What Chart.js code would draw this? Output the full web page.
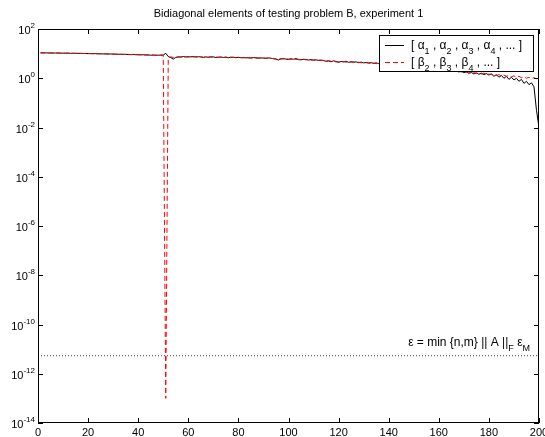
<!DOCTYPE html>
<html>
<head>
<meta charset="utf-8">
<script src="https://cdn.jsdelivr.net/npm/chart.js@4"></script>
<style>
  body { margin: 0; background: #fff; }
  canvas { display: block; }
</style>
</head>
<body>
<canvas id="myChart" width="545" height="437"></canvas>
<script>
// alpha_1 .. alpha_200 (plotted at x = 1..200)
const alphaValues = [
  10.8, 10.7, 10.8, 10.6, 10.7, 10.5, 10.6, 10.6, 10.4, 10.5,
  10.4, 10.5, 10.3, 10.4, 10.2, 10.3, 10.2, 10.1, 10.2, 10.0,
  10.1, 9.9, 10.0, 9.8, 9.9, 9.7, 9.8, 9.6, 9.7, 9.5,
  9.6, 9.4, 9.5, 9.3, 9.4, 9.2, 9.1, 9.3, 9.0, 9.1,
  8.9, 9.0, 8.8, 8.9, 8.6, 8.8, 8.5, 8.7, 8.6, 8.7,
  10.3, 7.6, 6.9, 6.0, 7.0, 7.4, 7.2, 7.6, 7.3, 7.5,
  7.4, 7.6, 7.2, 7.5, 7.3, 7.0, 7.4, 7.1, 7.3, 7.4,
  6.9, 7.2, 7.3, 7.0, 7.1, 6.8, 7.2, 7.0, 6.9, 7.1,
  6.8, 7.0, 6.7, 6.9, 6.6, 6.9, 6.8, 6.5, 6.7, 6.6,
  6.4, 6.7, 6.5, 6.2, 6.0, 5.5, 6.1, 6.3, 6.0, 5.8,
  6.2, 5.9, 6.3, 5.7, 5.6, 5.9, 5.8, 5.5, 5.7, 5.4,
  5.6, 5.3, 5.5, 5.2, 4.9, 5.0, 4.7, 5.1, 4.8, 4.4,
  4.8, 4.6, 4.9, 4.4, 4.7, 4.5, 4.6, 4.3, 4.5, 4.2,
  4.4, 4.1, 4.3, 4.0, 4.2, 3.9, 3.1, 4.0, 3.8, 3.6,
  3.7, 3.5, 3.6, 3.3, 3.5, 3.2, 3.3, 3.0, 3.2, 2.9,
  3.0, 2.8, 2.9, 2.6, 2.7, 2.5, 2.6, 2.4, 2.5, 2.3,
  2.4, 2.2, 2.3, 2.0, 2.1, 1.9, 2.0, 1.8, 1.9, 1.7,
  1.8, 1.6, 1.7, 1.5, 1.65, 1.45, 1.6, 1.4, 1.55, 1.35,
  1.5, 1.2, 1.4, 1.1, 1.3, 1.0, 1.2, 0.9, 1.1, 0.85,
  1.0, 0.75, 0.9, 0.62, 0.75, 0.55, 0.65, 0.45, 0.05, 0.01
];

// beta_2 .. beta_200 (plotted at x = 1..199)
const betaValues = [
  10.6, 10.8, 10.5, 10.7, 10.5, 10.7, 10.4, 10.6, 10.5, 10.3,
  10.5, 10.3, 10.4, 10.2, 10.4, 10.1, 10.3, 10.2, 10.0, 10.1,
  9.9, 10.0, 9.8, 10.0, 9.7, 9.8, 9.6, 9.8, 9.5, 9.7,
  9.4, 9.6, 9.3, 9.4, 9.2, 9.4, 9.2, 9.0, 9.2, 8.9,
  9.0, 8.8, 8.9, 8.7, 8.9, 8.6, 8.7, 8.5, 8.8, 8.6,
  1e-13, 6.8, 7.4, 7.0, 7.5, 7.2, 7.6, 7.1, 7.5, 7.3,
  7.6, 7.3, 7.7, 7.2, 7.5, 7.1, 7.4, 7.2, 7.5, 7.1,
  7.3, 7.0, 7.2, 6.9, 7.3, 6.9, 7.0, 7.2, 6.8, 7.0,
  6.9, 6.7, 7.0, 6.6, 6.8, 6.7, 6.5, 6.8, 6.5, 6.7,
  6.5, 6.6, 6.3, 6.4, 6.1, 5.9, 6.3, 6.0, 6.2, 6.0,
  5.9, 6.2, 5.8, 5.9, 5.7, 5.8, 5.6, 5.7, 5.4, 5.6,
  5.4, 5.5, 5.2, 5.4, 5.0, 5.2, 4.9, 4.9, 4.6, 4.8,
  4.6, 4.8, 4.5, 4.7, 4.5, 4.6, 4.3, 4.5, 4.2, 4.4,
  4.2, 4.3, 4.0, 4.2, 3.9, 4.1, 3.7, 3.9, 3.7, 3.8,
  3.6, 3.7, 3.4, 3.5, 3.3, 3.4, 3.1, 3.2, 3.0, 3.1,
  2.9, 3.0, 2.7, 2.8, 2.6, 2.7, 2.5, 2.6, 2.3, 2.4,
  2.3, 2.4, 2.1, 2.2, 2.0, 2.1, 1.9, 2.0, 1.8, 1.9,
  1.75, 1.8, 1.6, 1.7, 1.55, 1.65, 1.5, 1.6, 1.45, 1.5,
  1.4, 1.45, 1.3, 1.4, 1.25, 1.35, 1.2, 1.3, 1.15, 1.25,
  1.1, 1.2, 1.05, 1.15, 1.0, 1.1, 1.0, 1.05, 0.95
];

const epsilonLevel = 5.4e-12;
const xTicks = [0, 20, 40, 60, 80, 100, 120, 140, 160, 180, 200];
const yTicks = [1e2, 1e0, 1e-2, 1e-4, 1e-6, 1e-8, 1e-10, 1e-12, 1e-14];
const titleText = 'Bidiagonal elements of testing problem B, experiment 1';

const FONT = '"Liberation Sans", Arial, Helvetica, sans-serif';

// draw text pieces: kind 0 normal, 1 subscript, -1 superscript
const richWidth = (ctx, parts, size) => {
  let w = 0;
  parts.forEach(([txt, kind]) => {
    ctx.font = (kind === 0 ? size : Math.round(size * 0.75)) + 'px ' + FONT;
    w += ctx.measureText(txt).width;
  });
  return w;
};

const drawRich = (ctx, parts, x, y, size) => {
  let cx = x;
  ctx.textAlign = 'left';
  ctx.textBaseline = 'alphabetic';
  parts.forEach(([txt, kind]) => {
    ctx.font = (kind === 0 ? size : Math.round(size * 0.75)) + 'px ' + FONT;
    const dy = kind === 1 ? size * 0.38 : kind === -1 ? -size * 0.45 : 0;
    ctx.fillText(txt, cx, y + dy);
    cx += ctx.measureText(txt).width;
  });
};

const decorations = {
  id: 'decorations',
  afterDraw(chart) {
    const ctx = chart.ctx;
    const a = chart.chartArea;
    const xs = chart.scales.x;
    const ys = chart.scales.y;
    ctx.save();

    // frame
    ctx.strokeStyle = '#000';
    ctx.lineWidth = 1;
    ctx.strokeRect(Math.round(a.left) + 0.5, Math.round(a.top) + 0.5,
      Math.round(a.right - a.left) - 1, Math.round(a.bottom - a.top) - 1);

    // inward ticks
    ctx.beginPath();
    xTicks.forEach(v => {
      const px = Math.round(xs.getPixelForValue(v)) + 0.5;
      ctx.moveTo(px, a.bottom); ctx.lineTo(px, a.bottom - 5);
      ctx.moveTo(px, a.top); ctx.lineTo(px, a.top + 5);
    });
    yTicks.forEach(v => {
      const py = Math.round(ys.getPixelForValue(v)) + 0.5;
      ctx.moveTo(a.left, py); ctx.lineTo(a.left + 5, py);
      ctx.moveTo(a.right, py); ctx.lineTo(a.right - 5, py);
    });
    ctx.stroke();

    // y tick labels 10^n
    ctx.fillStyle = '#000';
    yTicks.forEach(v => {
      const py = ys.getPixelForValue(v);
      const e = String(Math.round(Math.log10(v)));
      ctx.font = '8px ' + FONT;
      const ew = ctx.measureText(e).width;
      ctx.font = '11px ' + FONT;
      const bw = ctx.measureText('10').width;
      const x0 = a.left - 3 - ew - bw;
      ctx.textAlign = 'left';
      ctx.textBaseline = 'alphabetic';
      ctx.fillText('10', x0, py + 5);
      ctx.font = '8px ' + FONT;
      ctx.fillText(e, x0 + bw, py - 1);
    });

    // title
    ctx.font = '11px ' + FONT;
    ctx.textAlign = 'center';
    ctx.textBaseline = 'middle';
    ctx.fillText(titleText, (a.left + a.right) / 2, 14);

    // epsilon label
    const epsParts = [['\u03b5 = min {n,m} || A ||', 0], ['F', 1], [' \u03b5', 0], ['M', 1]];
    const ew = richWidth(ctx, epsParts, 12);
    drawRich(ctx, epsParts, 530 - ew, 346, 12);

    // legend box
    const lx = 379.5, ly = 35.5, lw = 154, lh = 36;
    ctx.fillStyle = '#fff';
    ctx.fillRect(lx, ly, lw, lh);
    ctx.strokeStyle = '#000';
    ctx.strokeRect(lx, ly, lw, lh);

    ctx.beginPath();
    ctx.moveTo(385, 45.5); ctx.lineTo(404, 45.5);
    ctx.stroke();
    ctx.strokeStyle = '#ff0000';
    ctx.setLineDash([5, 3]);
    ctx.beginPath();
    ctx.moveTo(385, 62.5); ctx.lineTo(404, 62.5);
    ctx.stroke();
    ctx.setLineDash([]);

    ctx.fillStyle = '#000';
    drawRich(ctx, [['[ \u03b1', 0], ['1', 1], [' , \u03b1', 0], ['2', 1], [' , \u03b1', 0], ['3', 1],
      [' , \u03b1', 0], ['4', 1], [' , ... ]', 0]], 411, 49, 12);
    drawRich(ctx, [['[ \u03b2', 0], ['2', 1], [' , \u03b2', 0], ['3', 1], [' , \u03b2', 0], ['4', 1],
      [' , ... ]', 0]], 411, 66, 12);

    ctx.restore();
  }
};

const ctx = document.getElementById('myChart');

new Chart(ctx, {
  type: 'line',
  data: {
    datasets: [
      {
        label: 'beta',
        data: betaValues.map((v, i) => ({ x: i + 1, y: v })),
        borderColor: '#ff0000',
        borderWidth: 1,
        borderDash: [5, 3],
        pointRadius: 0,
        order: 0,
      },
      {
        label: 'alpha',
        data: alphaValues.map((v, i) => ({ x: i + 1, y: v })),
        borderColor: '#000000',
        borderWidth: 1,
        pointRadius: 0,
        order: 1,
      },
      {
        label: 'eps',
        data: [{ x: 0, y: epsilonLevel }, { x: 200, y: epsilonLevel }],
        borderColor: '#444444',
        borderWidth: 1,
        borderDash: [1, 2],
        pointRadius: 0,
        order: 2,
      },
    ],
  },
  options: {
    responsive: false,
    animation: false,
    layout: { padding: { top: 29, right: 6, bottom: 0, left: 0 } },
    plugins: {
      legend: { display: false },
      title: { display: false },
      tooltip: { enabled: false },
    },
    scales: {
      x: {
        type: 'linear',
        min: 0,
        max: 200,
        afterBuildTicks: (axis) => { axis.ticks = xTicks.map(v => ({ value: v })); },
        afterFit: (scale) => { scale.height = 14; scale.paddingLeft = 0; scale.paddingRight = 0; },
        grid: { display: false, drawTicks: false },
        border: { display: false },
        ticks: {
          color: '#000',
          font: { family: FONT, size: 11 },
          padding: 3,
          maxRotation: 0,
          autoSkip: false,
          callback: (v) => String(v),
        },
      },
      y: {
        type: 'logarithmic',
        min: 1e-14,
        max: 1e2,
        afterBuildTicks: (axis) => { axis.ticks = yTicks.map(v => ({ value: v })); },
        afterFit: (scale) => { scale.width = 38; scale.paddingTop = 0; scale.paddingBottom = 0; },
        grid: { display: false, drawTicks: false },
        border: { display: false },
        ticks: { display: false },
      },
    },
  },
  plugins: [decorations],
});
</script>
</body>
</html>
